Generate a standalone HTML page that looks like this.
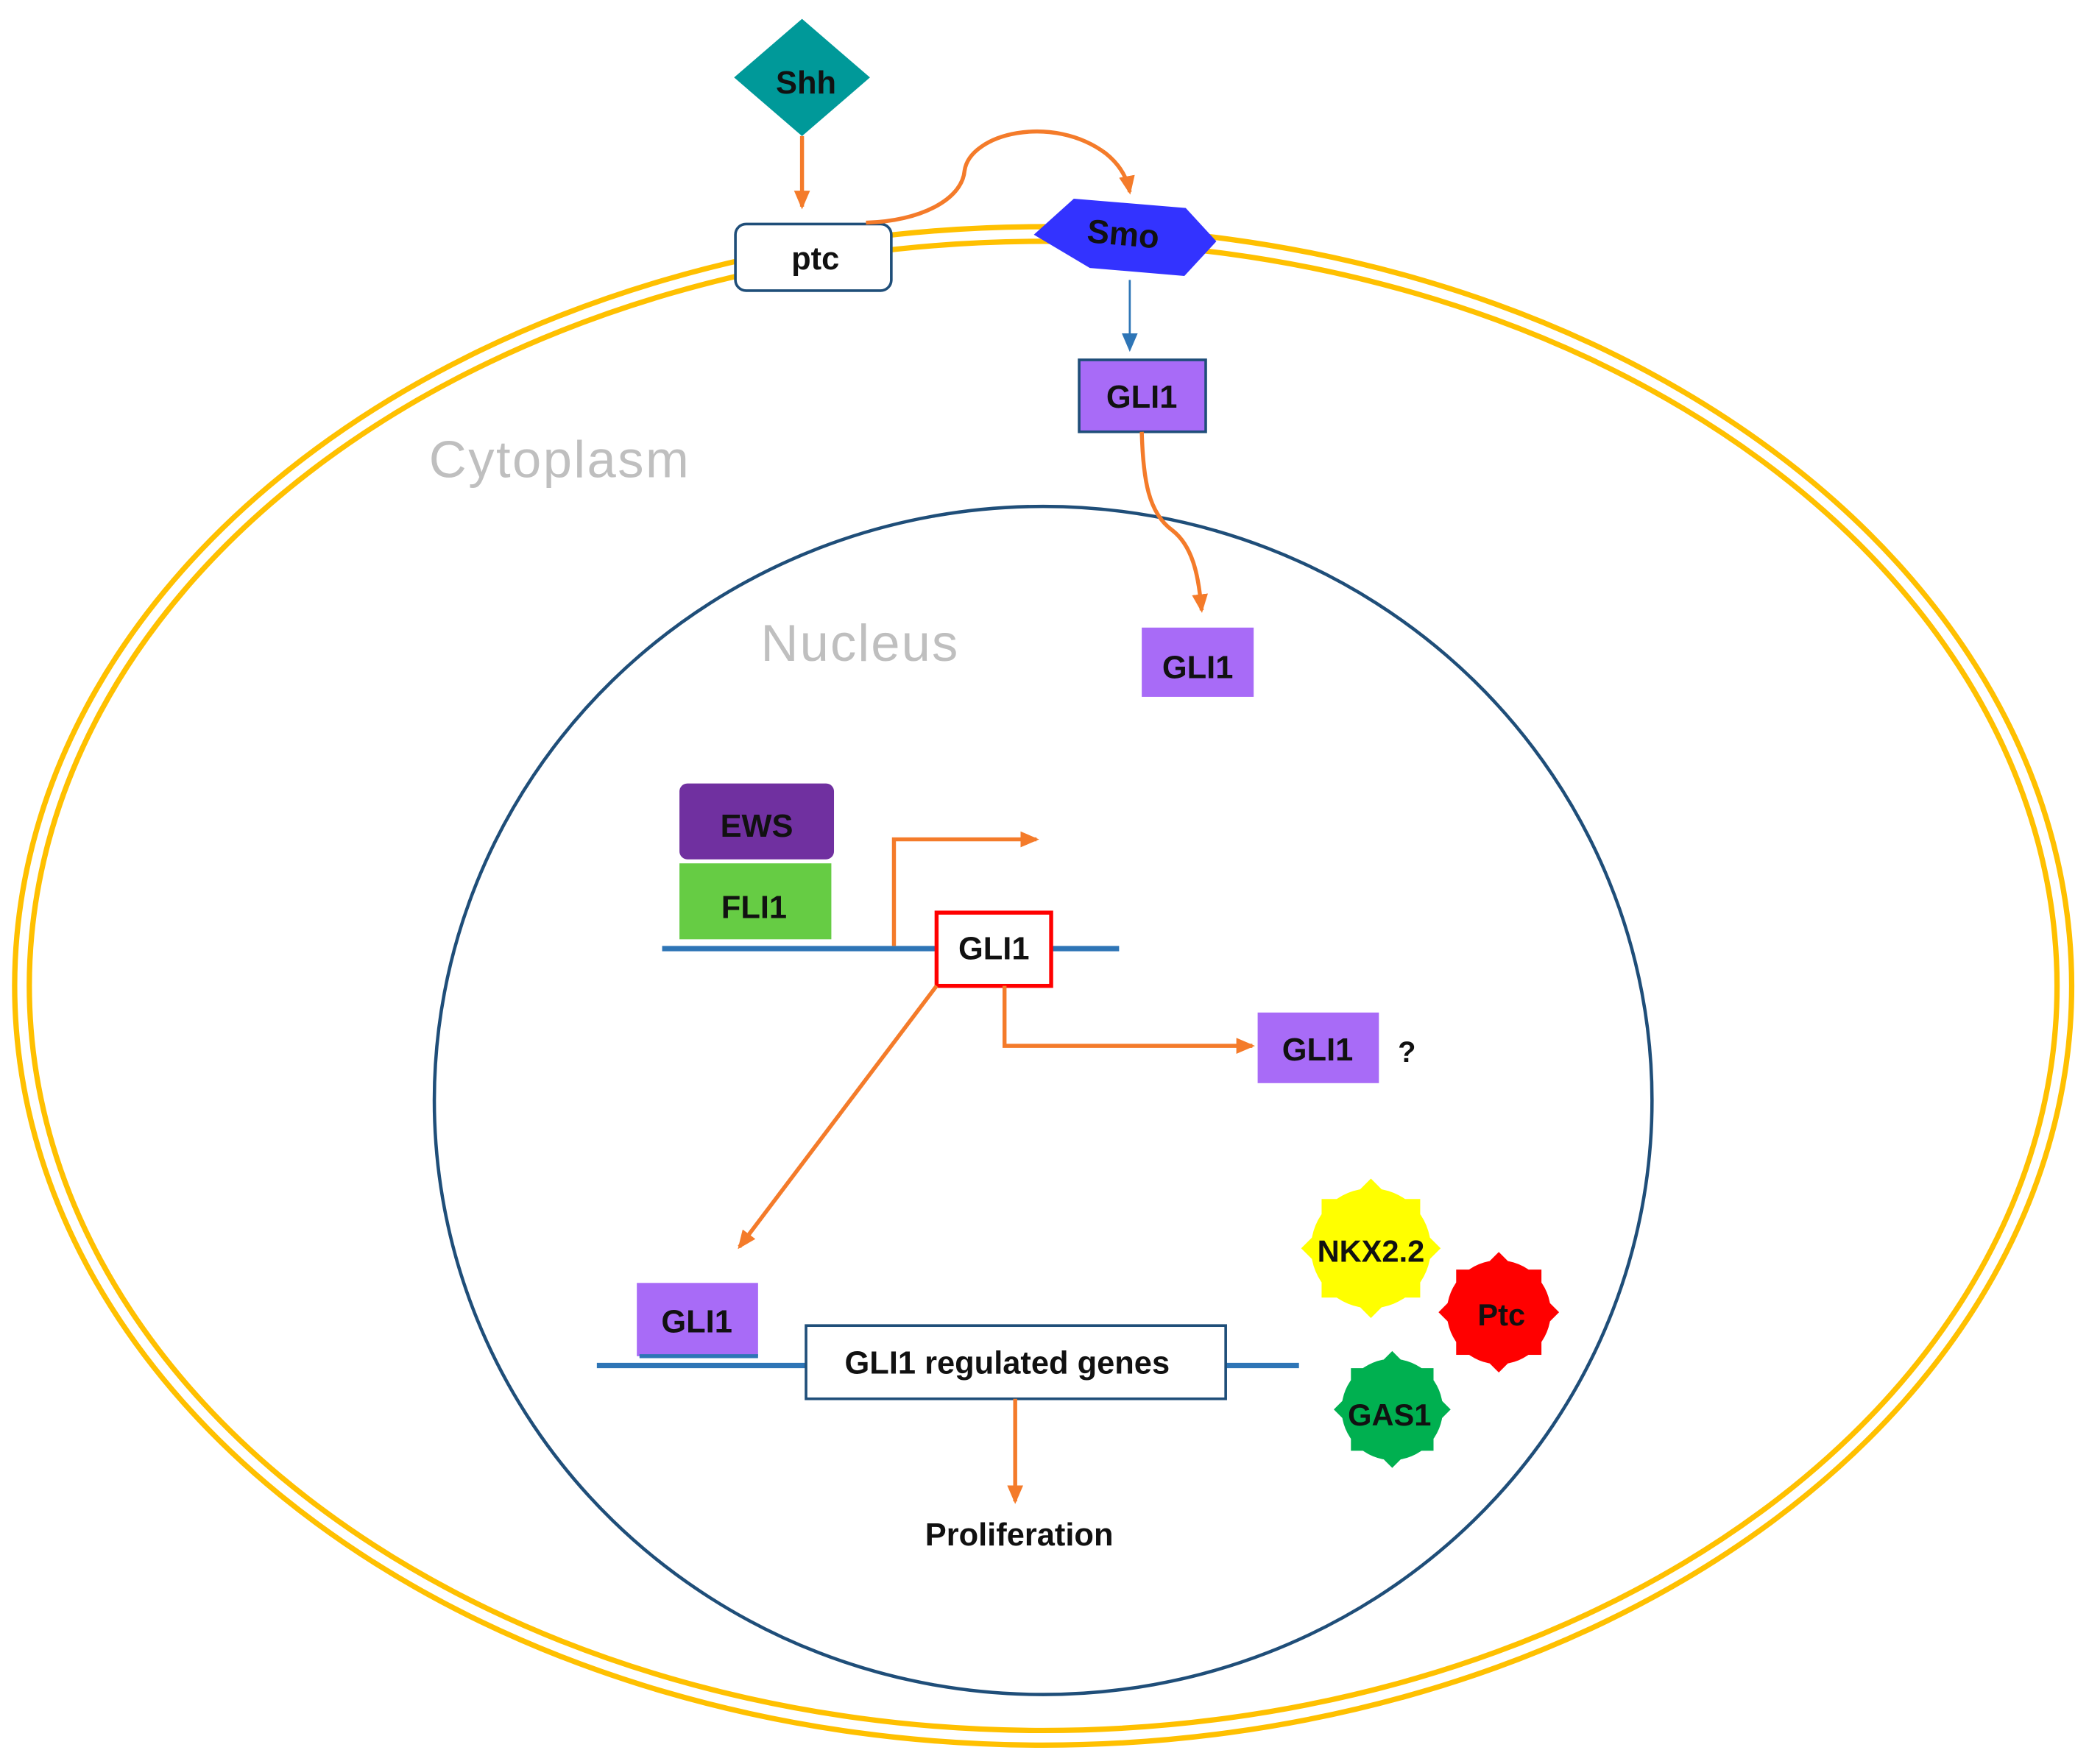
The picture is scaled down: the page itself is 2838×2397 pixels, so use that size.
<!DOCTYPE html>
<html><head><meta charset="utf-8"><style>
html,body{margin:0;padding:0;background:#fff}
svg{display:block}
text{font-family:"Liberation Sans",sans-serif;font-weight:bold;fill:#111}
</style></head><body>
<svg width="2838" height="2397" viewBox="0 0 1568 1324" xmlns="http://www.w3.org/2000/svg">
<defs>
<marker id="aO" markerWidth="14" markerHeight="12" refX="12" refY="6" orient="auto" markerUnits="userSpaceOnUse"><path d="M0,0 L14,6 L0,12 z" fill="#F47B2A"/></marker>
<marker id="aB" markerWidth="14" markerHeight="12" refX="12" refY="6" orient="auto" markerUnits="userSpaceOnUse"><path d="M0,0 L14,6 L0,12 z" fill="#2E75B6"/></marker>
</defs>
<ellipse cx="783" cy="740" rx="772" ry="570" fill="none" stroke="#FFC000" stroke-width="4"/>
<ellipse cx="783" cy="740" rx="761" ry="559" fill="none" stroke="#FFC000" stroke-width="4"/>
<ellipse cx="783" cy="826" rx="457" ry="446" fill="none" stroke="#1F4E79" stroke-width="2.5"/>
<text x="322" y="358" font-size="39" textLength="195" style="font-weight:normal;fill:#BFBFBF">Cytoplasm</text>
<text x="571" y="496" font-size="39" textLength="148" style="font-weight:normal;fill:#BFBFBF">Nucleus</text>
<polygon points="602,14 653,58 602,102 551,58" fill="#009999"/>
<text x="605" y="70" font-size="24" text-anchor="middle">Shh</text>
<line x1="602" y1="102" x2="602" y2="155" stroke="#F47B2A" stroke-width="3" marker-end="url(#aO)"/>
<rect x="552" y="168" width="117" height="50" rx="8" fill="#fff" stroke="#1F4E79" stroke-width="2"/>
<text x="612" y="202" font-size="24" text-anchor="middle">ptc</text>
<path d="M650,167 C690,166 722,150 724,128 C728,100 790,85 830,115 C840,123 846,133 848,144" fill="none" stroke="#F47B2A" stroke-width="3" marker-end="url(#aO)"/>
<polygon points="776,176 806,149 890,156 913,181 889,207 818,201" fill="#3333FF"/>
<text x="843" y="184" font-size="25" text-anchor="middle" transform="rotate(5 843 176)">Smo</text>
<line x1="848" y1="210" x2="848" y2="262" stroke="#2E75B6" stroke-width="1.5" marker-end="url(#aB)"/>
<rect x="810" y="270" width="95" height="54" fill="#A86BF7" stroke="#1F4E79" stroke-width="2"/>
<text x="857" y="306" font-size="24" text-anchor="middle">GLI1</text>
<path d="M857,324 C858,360 862,385 880,398 C898,412 900,440 902,458" fill="none" stroke="#F47B2A" stroke-width="3" marker-end="url(#aO)"/>
<rect x="857" y="471" width="84" height="52" fill="#A86BF7"/>
<text x="899" y="509" font-size="24" text-anchor="middle">GLI1</text>
<rect x="510" y="588" width="116" height="57" rx="6" fill="#7030A0"/>
<text x="568" y="628" font-size="24" text-anchor="middle">EWS</text>
<rect x="510" y="648" width="114" height="57" fill="#66CC44"/>
<text x="566" y="689" font-size="24" text-anchor="middle">FLI1</text>
<line x1="497" y1="712" x2="840" y2="712" stroke="#2E75B6" stroke-width="4"/>
<polyline points="671,710 671,630 778,630" fill="none" stroke="#F47B2A" stroke-width="3" marker-end="url(#aO)"/>
<rect x="703" y="685" width="86" height="55" fill="#fff" stroke="#FF0000" stroke-width="3"/>
<text x="746" y="720" font-size="24" text-anchor="middle">GLI1</text>
<polyline points="754,740 754,785 940,785" fill="none" stroke="#F47B2A" stroke-width="3" marker-end="url(#aO)"/>
<rect x="944" y="760" width="91" height="53" fill="#A86BF7"/>
<text x="989" y="796" font-size="24" text-anchor="middle">GLI1</text>
<text x="1056" y="797" font-size="22" text-anchor="middle">?</text>
<line x1="703" y1="740" x2="555" y2="936" stroke="#F47B2A" stroke-width="3" marker-end="url(#aO)"/>
<line x1="448" y1="1025" x2="975" y2="1025" stroke="#2E75B6" stroke-width="4"/>
<rect x="478" y="963" width="91" height="55" fill="#A86BF7"/>
<line x1="480" y1="1018" x2="569" y2="1018" stroke="#2E75B6" stroke-width="3"/>
<text x="523" y="1000" font-size="24" text-anchor="middle">GLI1</text>
<rect x="605" y="995" width="315" height="55" fill="#fff" stroke="#1F4E79" stroke-width="2"/>
<text x="756" y="1031" font-size="24" text-anchor="middle">GLI1 regulated genes</text>
<line x1="762" y1="1050" x2="762" y2="1127" stroke="#F47B2A" stroke-width="3" marker-end="url(#aO)"/>
<text x="765" y="1160" font-size="24" text-anchor="middle">Proliferation</text>
<g fill="#FFFF00">
<rect x="992" y="900" width="74" height="74"/>
<rect x="992" y="900" width="74" height="74" transform="rotate(45 1029 937)"/>
<circle cx="1029" cy="937" r="45"/>
</g>
<text x="1029" y="947" font-size="23" text-anchor="middle">NKX2.2</text>
<g fill="#FF0000">
<rect x="1093" y="953" width="64" height="64"/>
<rect x="1093" y="953" width="64" height="64" transform="rotate(45 1125 985)"/>
<circle cx="1125" cy="985" r="39"/>
</g>
<text x="1127" y="995" font-size="23" text-anchor="middle">Ptc</text>
<g fill="#00B050">
<rect x="1014" y="1027" width="62" height="62"/>
<rect x="1014" y="1027" width="62" height="62" transform="rotate(45 1045 1058)"/>
<circle cx="1045" cy="1058" r="38"/>
</g>
<text x="1043" y="1070" font-size="23" text-anchor="middle">GAS1</text>
</svg>
</body></html>
